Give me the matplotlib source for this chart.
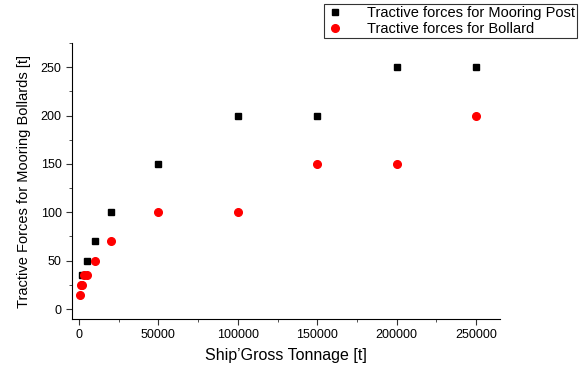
import matplotlib
matplotlib.use('Agg')
import matplotlib.pyplot as plt
from matplotlib.ticker import MultipleLocator

plt.rcParams['font.family'] = ['Liberation Sans', 'DejaVu Sans']

# gross tonnage and tractive forces
post_gt = [2000, 5000, 10000, 20000, 50000, 100000, 150000, 200000, 250000]
post_force = [35, 50, 70, 100, 150, 200, 200, 250, 250]

bollard_gt = [500, 1000, 2000, 3000, 5000, 10000, 20000, 50000, 100000, 150000, 200000, 250000]
bollard_force = [15, 25, 25, 35, 35, 50, 70, 100, 100, 150, 150, 200]

fig = plt.figure(figsize=(5.84, 3.67), dpi=100)
ax = fig.add_axes([0.1233, 0.1308, 0.7327, 0.752])

ax.plot(post_gt, post_force, 's', color='black', markersize=5,
        label='Tractive forces for Mooring Post')
ax.plot(bollard_gt, bollard_force, 'o', color='red', markersize=5.5,
        label='Tractive forces for Bollard')

ax.set_xlim(-4400, 265000)
ax.set_ylim(-10.3, 275)
ax.xaxis.set_major_locator(MultipleLocator(50000))
ax.xaxis.set_minor_locator(MultipleLocator(25000))
ax.yaxis.set_major_locator(MultipleLocator(50))
ax.yaxis.set_minor_locator(MultipleLocator(25))
ax.tick_params(which='major', direction='out', length=4, labelsize=9, color='#333333')
ax.tick_params(which='minor', direction='out', length=2.5, color='#333333')

ax.spines['top'].set_visible(False)
ax.spines['right'].set_visible(False)

ax.set_xlabel("Ship\u2019Gross Tonnage [t]", fontsize=11.5, labelpad=5)
ax.set_ylabel('Tractive Forces for Mooring Bollards [t]', fontsize=10.5, labelpad=7)

leg = fig.legend(loc='upper right', bbox_to_anchor=(0.988, 0.989), fontsize=10.5,
                 frameon=True, fancybox=False, edgecolor='black',
                 handlelength=1.3, handletextpad=1.5, borderpad=0.15,
                 labelspacing=0.1, borderaxespad=0)
leg.get_frame().set_linewidth(0.8)

fig.savefig('out.png', dpi=100)
